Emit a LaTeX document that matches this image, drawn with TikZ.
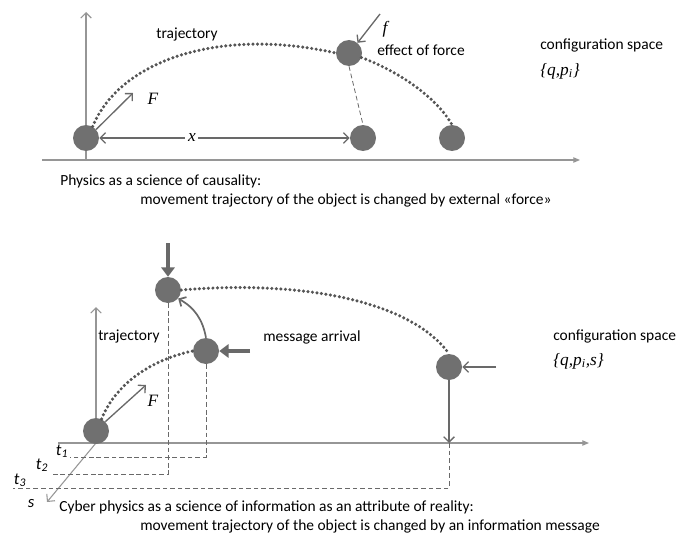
\documentclass[tikz,border=0pt]{standalone}
\usepackage{fontspec}
\setmainfont{Carlito}
\newfontfamily\serifit{Liberation Serif}
\usetikzlibrary{arrows.meta,positioning,calc}
\definecolor{ballgray}{RGB}{112,112,112}
\definecolor{axisgray}{RGB}{150,150,150}
\definecolor{arrowgray}{RGB}{105,105,105}
\definecolor{dotgray}{RGB}{85,85,85}

\begin{document}
\begin{tikzpicture}[x=0.75pt,y=-0.75pt,
  every node/.style={font=\fontsize{11.6}{13}\selectfont},
  ball/.style={circle,fill=ballgray,minimum size=19.5pt,inner sep=0pt},
  axisline/.style={draw=axisgray,line width=0.8pt},
  filltip/.style={-{Triangle[length=5pt,width=4pt]}},
  opentip/.style={-{Straight Barb[length=4pt,width=8pt]}},
  ar/.style={draw=arrowgray,line width=1pt,opentip},
  heavy/.style={draw=arrowgray,line width=2.4pt,-{Triangle[length=7pt,width=10pt]}},
  traj/.style={draw=dotgray,line width=2.6pt,line cap=round,dash pattern=on 0pt off 3.4pt},
  guide/.style={draw=arrowgray,line width=0.6pt,dash pattern=on 3.5pt off 2.2pt},
  sym/.style={font=\fontsize{13}{15}\selectfont\serifit\itshape},
  tlab/.style={font=\fontsize{12.5}{14}\selectfont\itshape},
  lab/.style={anchor=west,inner sep=0pt}]

 \useasboundingbox (0,0) rectangle (692,535);

 % upper panel: physics
 \coordinate (o1) at (86,160);
 \draw[axisline,opentip] (o1) -- (86,12);
 \draw[axisline,filltip] (42,160) -- (580,160);
 \node[ball] (start) at (86,138) {};
 \node[ball] (hit) at (349,53) {};
 \node[ball] (land) at (363,138) {};
 \node[ball] (free) at (452,138) {};
 \draw[traj] (start.60) .. controls (120,60) and (220,27) .. (hit.west);
 \draw[traj] (hit.-20) .. controls (395,70) and (435,95) .. (free.north);
 \draw[guide] (hit.south) -- (land.north);
 \coordinate (Ftip) at (133,93);
 \draw[ar] (start.40) -- (Ftip);
 \node[sym] (Flab) at (153,99) {F};
 \draw[ar,{Straight Barb[length=4pt,width=8pt]}-{Straight Barb[length=4pt,width=8pt]}] (start.east) -- (land.west)
   node[pos=0.37,fill=white,sym,inner sep=2pt] (xlab) {x};
 \coordinate (ftail) at (380,14);
 \draw[ar] (ftail) -- (hit.50);
 \node[sym] (flab) at (385,29) {f};
 \node[lab] (effect) at (377,50) {effect of force};
 \node (traj1) at (187,35) {trajectory};
 \node[lab] (conf1) at (540,45) {configuration space};
 \node[lab,sym] (set1) at (540,71) {\{q,p\textsubscript{i}\}};
 \node[lab] (cap1) at (60,181) {Physics as a science of causality:};
 \node[lab] (cap2) at (140,200) {movement trajectory of the object is changed by external «force»};

 % lower panel: cyber physics
 \coordinate (o2) at (96,443);
 \draw[axisline,opentip] (o2) -- (96,307);
 \draw[axisline,filltip] (58,443) -- (589,443);
 \draw[axisline,opentip] (o2) -- (47,502);
 \node[ball] (c0) at (96,431) {};
 \node[ball] (ctop) at (168,290) {};
 \node[ball] (cmsg) at (206,351) {};
 \node[ball] (cend) at (449,367) {};
 \draw[traj] (c0.65) .. controls (115,385) and (150,360) .. (cmsg.west);
 \draw[traj] (ctop.east) .. controls (300,280) and (410,300) .. (cend.north);
 \coordinate (F2tip) at (146,385);
 \draw[ar] (c0.45) -- (F2tip);
 \node[sym] (F2lab) at (153,401) {F};
 \coordinate (dtop) at (168,243);
 \draw[heavy] (dtop) -- (ctop.north);
 \coordinate (dmsg) at (250,351);
 \draw[heavy] (dmsg) -- (cmsg.east);
 \draw[draw=arrowgray,line width=1.3pt,opentip] (cmsg.north) to[bend right=25] (ctop.-40);
 \coordinate (dend) at (496,367);
 \draw[ar] (dend) -- (cend.east);
 \coordinate (foot) at (449,443);
 \draw[ar] (cend.south) -- (foot);
 % time marks
 \draw[guide] (cmsg.south) |- (70,457);
 \draw[guide] (ctop.south) |- (50,474);
 \draw[guide] (foot) |- (13,488);
 \node[tlab] (t1) at (62,451) {t\textsubscript{1}};
 \node[tlab] (t2) at (42,465) {t\textsubscript{2}};
 \node[tlab] (t3) at (20,480) {t\textsubscript{3}};
 \node[tlab] (slab) at (31,504) {s};
 \node[lab] (traj2) at (98,337) {trajectory};
 \node[lab] (arrival) at (263,337) {message arrival};
 \node[lab] (conf2) at (553,336) {configuration space};
 \node[lab,sym] (set2) at (553,361) {\{q,p\textsubscript{i},s\}};
 \node[lab] (cap3) at (59,507) {Cyber physics as a science of information as an attribute of reality:};
 \node[lab] (cap4) at (140,526) {movement trajectory of the object is changed by an information message};
\end{tikzpicture}
\end{document}
